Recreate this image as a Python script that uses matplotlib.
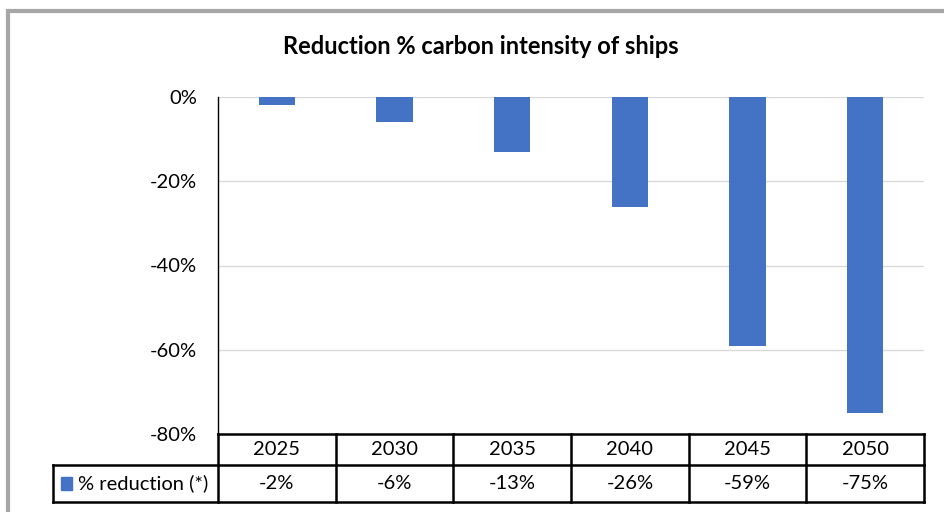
import matplotlib
matplotlib.use("Agg")
import matplotlib.pyplot as plt
from matplotlib.patches import Rectangle
from matplotlib.lines import Line2D

# data
years = ["2025", "2030", "2035", "2040", "2045", "2050"]
reduction = [-2, -6, -13, -26, -59, -75]
series_name = "% reduction (*)"
title = "Reduction % carbon intensity of ships"
yticks = [0, -20, -40, -60, -80]

W, H = 944, 512
plt.rcParams['font.family'] = ['Lato', 'DejaVu Sans']
fig = plt.figure(figsize=(W / 100, H / 100), dpi=100)


def box(x0, y0, x1, y1):
    # pixel box (top-left origin) -> figure fraction [l, b, w, h]
    return [x0 / W, 1 - y1 / H, (x1 - x0) / W, (y1 - y0) / H]


# outer grey frame (chart is cropped on right / bottom)
fig.patches.append(Rectangle((8 / W, -0.1), 1.2, 1 - 11 / H + 0.1,
                             transform=fig.transFigure, fill=False,
                             edgecolor="#a6a6a6", linewidth=3))

ax = fig.add_axes(box(218, 97, 924, 434))
x = list(range(len(years)))
ax.bar(x, reduction, width=0.31, color="#4472C4", zorder=3)
ax.set_xlim(-0.5, len(years) - 0.5)
ax.set_ylim(-80, 0)
ax.set_yticks(yticks)
ax.set_yticklabels([f"{v}%" for v in yticks], fontsize=14.5)
ax.tick_params(axis="y", length=0, pad=15)
ax.set_xticks([])
ax.grid(axis="y", color="#d9d9d9", linewidth=1, zorder=0)
for s in ["top", "right", "bottom"]:
    ax.spines[s].set_visible(False)
ax.spines["left"].set_color("black")
ax.spines["left"].set_linewidth(1)

fig.text(481 / W, 1 - 47 / H, title, ha="center", va="center",
         fontsize=17, fontweight="bold")

# data table under the plot, sharing the category scale
tab = fig.add_axes(box(53, 434, 924, 502))
ext = (218 - 53) / ((924 - 218) / len(years))
tab.set_xlim(-0.5 - ext, len(years) - 0.5)
tab.set_ylim(0, 2)
tab.axis("off")
lw = 1.8
# horizontal lines
tab.add_line(Line2D([-0.5, len(years) - 0.5], [2, 2], color="black", lw=lw, clip_on=False))
tab.add_line(Line2D([-0.5 - ext, len(years) - 0.5], [1.1, 1.1], color="black", lw=lw, clip_on=False))
tab.add_line(Line2D([-0.5 - ext, len(years) - 0.5], [0, 0], color="black", lw=lw, clip_on=False))
# vertical lines
for i in range(len(years) + 1):
    tab.add_line(Line2D([i - 0.5, i - 0.5], [0, 2], color="black", lw=lw, clip_on=False))
tab.add_line(Line2D([-0.5 - ext, -0.5 - ext], [0, 1.1], color="black", lw=lw, clip_on=False))

for i, (yr, v) in enumerate(zip(years, reduction)):
    tab.text(i, 1.55, yr, ha="center", va="center", fontsize=14.5)
    tab.text(i, 0.55, f"{v}%", ha="center", va="center", fontsize=14.5)

tab.add_patch(Rectangle((-0.5 - ext + 0.07, 0.34), 0.095, 0.4,
                        color="#4472C4", clip_on=False))
tab.text(-0.5 - ext + 0.21, 0.55, series_name, ha="left", va="center", fontsize=14.5)

fig.savefig("out.png", dpi=100)
